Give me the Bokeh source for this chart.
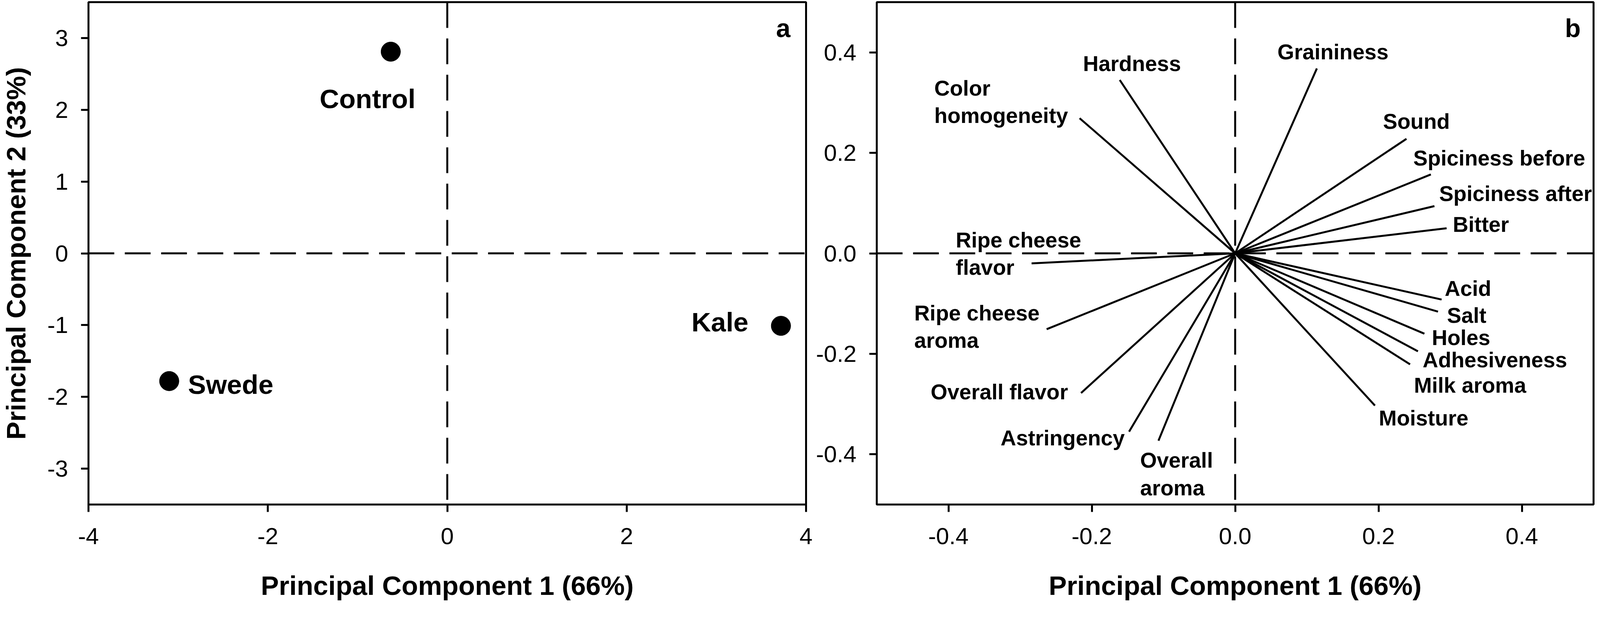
from bokeh.plotting import figure
from bokeh.models import Span, FixedTicker, PrintfTickFormatter, ColumnDataSource, Range1d
from bokeh.layouts import row
from bokeh.core.properties import value
from bokeh.embed import file_html
from bokeh.resources import INLINE

# ---------------- data ----------------
samples = ["Control", "Swede", "Kale"]
pc1_scores = [-0.63, -3.10, 3.72]
pc2_scores = [2.81, -1.78, -1.01]

attributes = ["Hardness", "Color homogeneity", "Ripe cheese flavor", "Ripe cheese aroma",
              "Overall flavor", "Astringency", "Overall aroma", "Graininess", "Sound",
              "Spiciness before", "Spiciness after", "Bitter", "Acid", "Salt", "Holes",
              "Adhesiveness", "Milk aroma", "Moisture"]
pc1_loadings = [-0.161, -0.217, -0.284, -0.263, -0.215, -0.148, -0.107, 0.114, 0.239,
                0.273, 0.278, 0.295, 0.288, 0.283, 0.264, 0.255, 0.244, 0.195]
pc2_loadings = [0.345, 0.269, -0.020, -0.151, -0.278, -0.355, -0.373, 0.368, 0.228,
                0.157, 0.094, 0.050, -0.092, -0.116, -0.160, -0.195, -0.221, -0.303]

score_xticks = [-4, -2, 0, 2, 4]
score_yticks = [-3, -2, -1, 0, 1, 2, 3]
loading_ticks = [-0.4, -0.2, 0.0, 0.2, 0.4]

x_title = "Principal Component 1 (66%)"
y_title = "Principal Component 2 (33%)"

# ---------------- styling / label layout (reference pixels, scaled by K) ----------------
K = 0.95
def S(v):
    return int(round(v * K))

FONT = "Liberation Sans"
TEXT_SHIFT = -24
score_label_offsets = {"Control": (-192, 151), "Swede": (51, 33), "Kale": (-241, 15)}
label_lines = {"Color homogeneity": ["Color", "homogeneity"],
               "Ripe cheese flavor": ["Ripe cheese", "flavor"],
               "Ripe cheese aroma": ["Ripe cheese", "aroma"],
               "Overall aroma": ["Overall", "aroma"]}
loading_label_offsets = {
    "Hardness": (-99, -20), "Color homogeneity": (-392, -57), "Ripe cheese flavor": (-204, -39),
    "Ripe cheese aroma": (-357, -19), "Overall flavor": (-405, 21), "Astringency": (-346, 41),
    "Overall aroma": (-49, 77), "Graininess": (-106, -20), "Sound": (-63, -23),
    "Spiciness before": (-47, -20), "Spiciness after": (13, -10), "Bitter": (17, 14),
    "Acid": (8, -5), "Salt": (24, 34), "Holes": (20, 35), "Adhesiveness": (13, 47),
    "Milk aroma": (10, 81), "Moisture": (10, 58)}
LINE_STEP = 74
DASH = "%d %d" % (S(70), S(28))
LW = 5


def style(p, xticks, yticks, fmt, show_ytitle):
    p.xgrid.visible = False
    p.ygrid.visible = False
    p.outline_line_color = "black"
    p.outline_line_width = LW
    p.outline_line_alpha = 1
    p.background_fill_color = "white"
    p.border_fill_color = "white"
    for ax, ticks in ((p.xaxis[0], xticks), (p.yaxis[0], yticks)):
        ax.ticker = FixedTicker(ticks=ticks, minor_ticks=[])
        ax.formatter = PrintfTickFormatter(format=fmt)
        ax.axis_line_width = LW
        ax.axis_line_color = "black"
        ax.major_tick_line_width = LW
        ax.major_tick_line_color = "black"
        ax.major_tick_out = S(20)
        ax.major_tick_in = 0
        ax.minor_tick_line_color = None
        ax.major_label_text_font = FONT
        ax.major_label_text_font_size = "%dpx" % S(63)
        ax.major_label_text_color = "black"
        ax.axis_label_text_font = FONT
        ax.axis_label_text_font_size = "%dpx" % S(73)
        ax.axis_label_text_font_style = "bold"
        ax.axis_label_text_color = "black"
    p.xaxis.major_label_standoff = S(43)
    p.xaxis.axis_label = x_title
    p.xaxis.axis_label_standoff = S(68)
    p.yaxis.major_label_standoff = S(35)
    if show_ytitle:
        p.yaxis.axis_label = y_title
        p.yaxis.axis_label_standoff = S(40)
    for dim in ("width", "height"):
        p.add_layout(Span(location=0, dimension=dim, line_color="black",
                          line_width=LW, line_dash=DASH))


# ---------------- panel a ----------------
pa = figure(frame_width=S(1934), frame_height=S(1355), output_backend="svg", toolbar_location=None,
            x_range=Range1d(-4, 4), y_range=Range1d(-3.5, 3.5),
            min_border_left=S(243) - 8, min_border_right=S(22), min_border_top=S(14) - 8,
            min_border_bottom=S(240))
style(pa, score_xticks, score_yticks, "%d", True)
pa.scatter(pc1_scores, pc2_scores, size=S(53), color="black")
src_a = ColumnDataSource(dict(x=pc1_scores, y=pc2_scores, text=samples,
                              xo=[S(score_label_offsets[s][0]) for s in samples],
                              yo=[S(score_label_offsets[s][1] + TEXT_SHIFT) for s in samples]))
pa.text(x="x", y="y", text="text", x_offset="xo", y_offset="yo", source=src_a,
        text_font=value(FONT), text_font_style="bold", text_font_size="%dpx" % S(73),
        text_align="left", text_baseline="alphabetic", text_color="black")
pa.text(x=[pa.x_range.end], y=[pa.y_range.end], text=["a"], x_offset=S(-42),
        y_offset=S(94 + TEXT_SHIFT),
        text_font=value(FONT), text_font_style="bold", text_font_size="%dpx" % S(70),
        text_align="right", text_baseline="alphabetic", text_color="black")

# ---------------- panel b ----------------
pb = figure(frame_width=S(1932), frame_height=S(1355), output_backend="svg", toolbar_location=None,
            x_range=Range1d(-0.5, 0.5), y_range=Range1d(-0.5, 0.5),
            min_border_left=S(2367) - S(2177) - S(22), min_border_right=S(8),
            min_border_top=S(14) - 8, min_border_bottom=S(240))
style(pb, loading_ticks, loading_ticks, "%.1f", False)
pb.segment(x0=[0] * len(attributes), y0=[0] * len(attributes), x1=pc1_loadings, y1=pc2_loadings,
           line_color="black", line_width=LW)
lx, ly, lt, lxo, lyo = [], [], [], [], []
for a, xv, yv in zip(attributes, pc1_loadings, pc2_loadings):
    dx, dy = loading_label_offsets[a]
    for j, line in enumerate(label_lines.get(a, [a])):
        lx.append(xv); ly.append(yv); lt.append(line)
        lxo.append(S(dx)); lyo.append(S(dy + j * LINE_STEP + TEXT_SHIFT))
src_b = ColumnDataSource(dict(x=lx, y=ly, text=lt, xo=lxo, yo=lyo))
pb.text(x="x", y="y", text="text", x_offset="xo", y_offset="yo", source=src_b,
        text_font=value(FONT), text_font_style="bold", text_font_size="%dpx" % S(58),
        text_align="left", text_baseline="alphabetic", text_color="black")
pb.text(x=[pb.x_range.end], y=[pb.y_range.end], text=["b"], x_offset=S(-35),
        y_offset=S(94 + TEXT_SHIFT),
        text_font=value(FONT), text_font_style="bold", text_font_size="%dpx" % S(70),
        text_align="right", text_baseline="alphabetic", text_color="black")

layout = row(pa, pb)
open("out.html", "w").write(file_html(layout, INLINE))
